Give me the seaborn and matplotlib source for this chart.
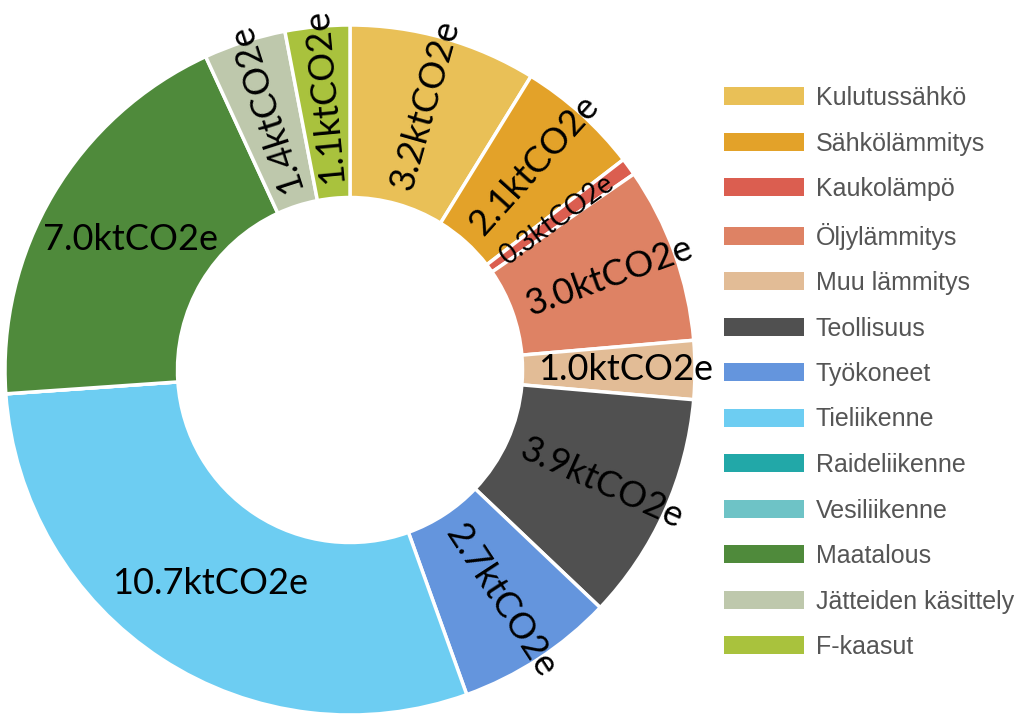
import numpy as np
import matplotlib
matplotlib.use("Agg")
import matplotlib.pyplot as plt
import matplotlib.patches as mpatches
import seaborn as sns

# emission sectors, ktCO2e
sectors = ['Kulutussähkö', 'Sähkölämmitys', 'Kaukolämpö', 'Öljylämmitys',
           'Muu lämmitys', 'Teollisuus', 'Työkoneet', 'Tieliikenne',
           'Raideliikenne', 'Vesiliikenne', 'Maatalous',
           'Jätteiden käsittely', 'F-kaasut']
emissions = [3.2, 2.1, 0.3, 3.0, 1.0, 3.9, 2.7, 10.7, 0.0, 0.0, 7.0, 1.4, 1.1]
colors = ['#E9C057', '#E3A229', '#DB5E50', '#DE8264', '#E2BC96', '#505050',
          '#6495DD', '#6DCDF2', '#22A8A8', '#6EC3C6', '#4F8A3B', '#BEC8AC',
          '#A9C23D']

sns.set_theme(style="white")
plt.rcParams['font.family'] = ['Lato', 'DejaVu Sans']

W, H = 1024, 716
fig = plt.figure(figsize=(W / 100, H / 100), dpi=100)

# donut centred at (350, 370) px with outer radius 345 px
cx, cy, R = 350, 370, 345
ax = fig.add_axes([(cx - R) / W, (H - cy - R) / H, 2 * R / W, 2 * R / H])

ax.pie(emissions, colors=colors, startangle=90, counterclock=False,
       radius=1.0, wedgeprops=dict(width=0.5, edgecolor='white', linewidth=2.5))
ax.set_xlim(-1, 1)
ax.set_ylim(-1, 1)
ax.set_aspect('equal')
ax.axis('off')

# value labels: radial ones start near the hole, the two big left slices are horizontal
total = sum(emissions)
cum = 0.0
for val in emissions:
    if val <= 0:
        continue
    mid = (cum + val / 2) / total * 360.0
    cum += val
    ang = (90.0 - mid + 180) % 360 - 180  # math angle in (-180, 180]
    a = np.deg2rad(ang)
    fs = 26 if val >= 0.5 else 20
    label = f"{val:.1f}ktCO2e"
    if -90 < ang <= 120:
        r = 0.545
        ax.text(r * np.cos(a), r * np.sin(a), label, ha='left', va='center',
                rotation=ang, rotation_mode='anchor', fontsize=fs, color='black')
    else:
        r = 0.74
        ax.text(r * np.cos(a), r * np.sin(a), label, ha='center', va='center',
                fontsize=fs, color='black')

handles = [mpatches.Patch(facecolor=c, edgecolor='none') for c in colors]
fsz = 18
fs_px = fsz * 100 / 72
leg = fig.legend(handles, sectors, loc='upper left',
                 bbox_to_anchor=(724 / W, 1 - 86 / H), frameon=False,
                 borderpad=0, borderaxespad=0,
                 handlelength=80 / fs_px, handleheight=18 / fs_px,
                 labelspacing=0.86, handletextpad=12 / fs_px,
                 prop={'family': ['Liberation Sans', 'DejaVu Sans'], 'size': fsz})
for t in leg.get_texts():
    t.set_color('#555555')

fig.savefig('out.png', dpi=100)
